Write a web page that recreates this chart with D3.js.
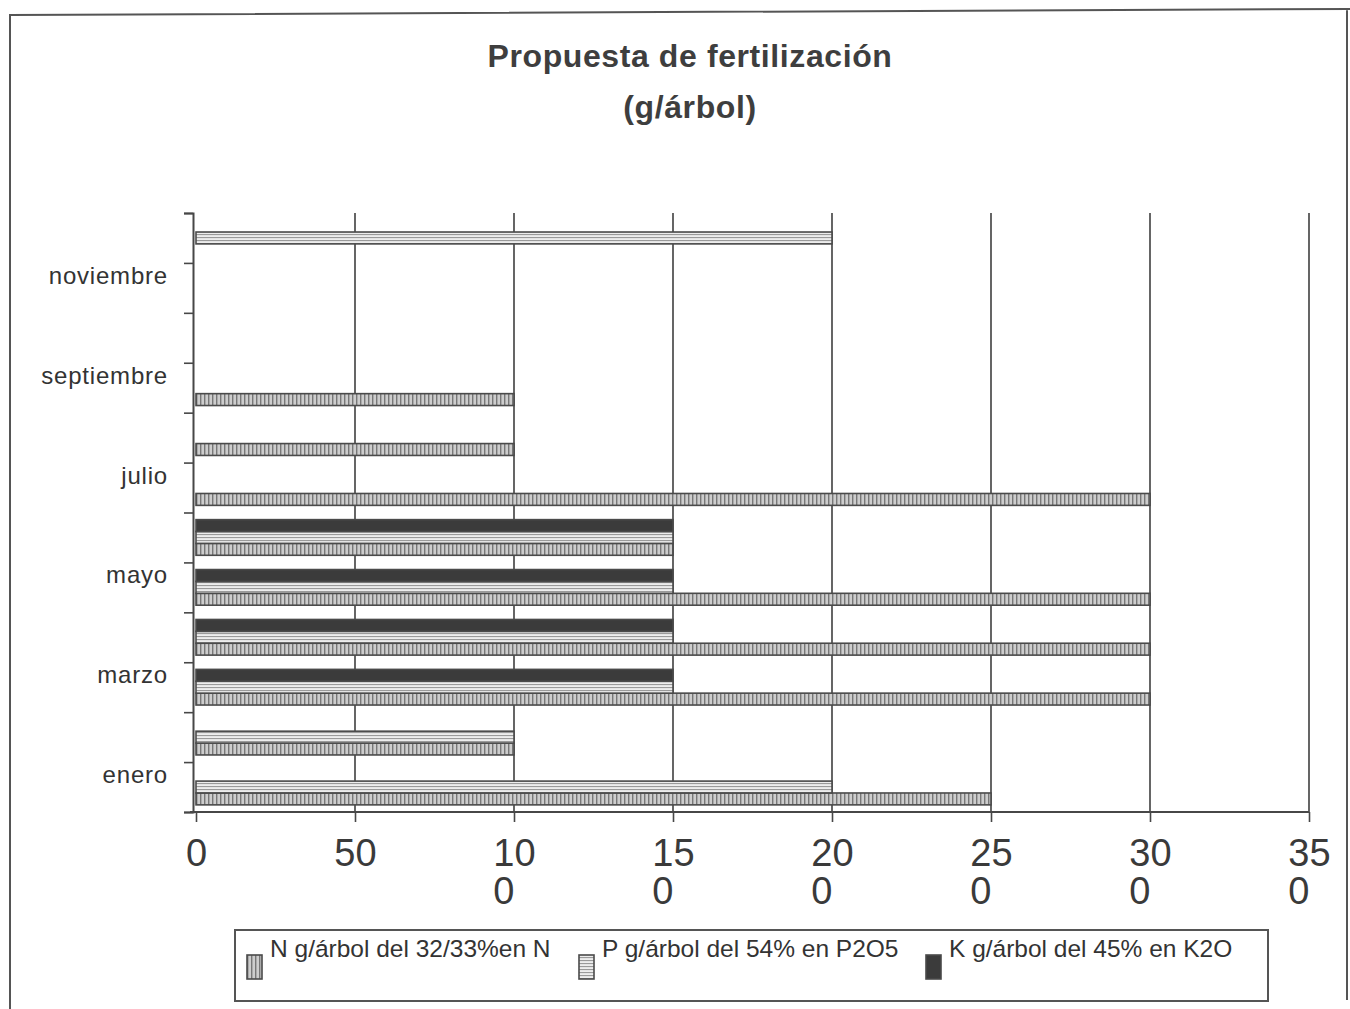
<!DOCTYPE html>
<html lang="es">
<head>
<meta charset="utf-8">
<title>Propuesta de fertilización (g/árbol)</title>
<script src="https://cdn.jsdelivr.net/npm/d3@7/dist/d3.min.js"></script>
<style>
  html, body { margin: 0; padding: 0; background: #fff; }
  svg { display: block; }
  text { font-family: "Liberation Sans", Arial, sans-serif; }
</style>
</head>
<body>
<svg id="chart" width="1350" height="1009"></svg>
<script>
// Monthly fertilisation plan, grams per tree
const months = ["enero", "febrero", "marzo", "abril", "mayo", "junio",
                "julio", "agosto", "septiembre", "octubre", "noviembre", "diciembre"];
const nValues = [250, 100, 300, 300, 300, 150, 300, 100, 100, 0, 0, 0];
const pValues = [200, 100, 150, 150, 150, 150, 0, 0, 0, 0, 0, 200];
const kValues = [0, 0, 150, 150, 150, 150, 0, 0, 0, 0, 0, 0];
const seriesKeys = ["N", "P", "K"];
const seriesLabels = ["N g/árbol del 32/33%en N", "P g/árbol del 54% en P2O5", "K g/árbol del 45% en K2O"];
const xTickValues = [0, 50, 100, 150, 200, 250, 300, 350];
const labeledMonths = ["enero", "marzo", "mayo", "julio", "septiembre", "noviembre"];
const titleLines = ["Propuesta de fertilización", "(g/árbol)"];

const seriesValues = { N: nValues, P: pValues, K: kValues };

const svg = d3.select("#chart");
const ink = "#474747";

// fill patterns for the three series
const defs = svg.append("defs");
const patN = defs.append("pattern").attr("id", "fill-N")
  .attr("patternUnits", "userSpaceOnUse").attr("width", 4).attr("height", 4);
patN.append("rect").attr("width", 4).attr("height", 4).attr("fill", "#cdcdcd");
patN.append("rect").attr("width", 1.4).attr("height", 4).attr("fill", "#777");

const patP = defs.append("pattern").attr("id", "fill-P")
  .attr("patternUnits", "userSpaceOnUse").attr("width", 4).attr("height", 3);
patP.append("rect").attr("width", 4).attr("height", 3).attr("fill", "#ededed");
patP.append("rect").attr("width", 4).attr("height", 1.1).attr("fill", "#9a9a9a");

const fills = { N: "url(#fill-N)", P: "url(#fill-P)", K: "#3b3b3b" };

// outer frame of the sheet
svg.append("path")
  .attr("d", "M10,1009 L10,15 L1350,9 M1347,9 L1347,1000")
  .attr("fill", "none").attr("stroke", "#555").attr("stroke-width", 2);

// title
svg.append("g").selectAll("text").data(titleLines).join("text")
  .attr("x", 690)
  .attr("y", (d, i) => 67 + i * 51)
  .attr("text-anchor", "middle")
  .attr("font-size", 32)
  .attr("font-weight", "bold")
  .attr("letter-spacing", 0.6)
  .attr("fill", "#3e3e3e")
  .text(d => d);

// scales
const plotTop = 213, plotBottom = 812, plotLeft = 196, plotRight = 1309;
const x = d3.scaleLinear().domain([0, 350]).range([plotLeft, plotRight]);
const y = d3.scaleBand().domain(months.slice().reverse()).range([plotTop, plotBottom]).padding(0);
const ySeries = d3.scaleBand().domain(["K", "P", "N"]).range([0, y.bandwidth()])
  .paddingInner(0).paddingOuter(0.6);
const yEdges = d3.scaleLinear().domain([0, months.length]).range([plotBottom, plotTop]);

// vertical gridlines
svg.append("g").selectAll("line").data(xTickValues.filter(v => v > 0)).join("line")
  .attr("x1", d => x(d)).attr("x2", d => x(d))
  .attr("y1", plotTop).attr("y2", plotBottom)
  .attr("stroke", "#3f3f3f").attr("stroke-width", 1.6);

// bars
const rows = months.flatMap((m, i) => seriesKeys.map(k => ({ month: m, key: k, value: seriesValues[k][i] })))
  .filter(d => d.value > 0);

svg.append("g").selectAll("rect").data(rows).join("rect")
  .attr("x", x(0))
  .attr("y", d => y(d.month) + ySeries(d.key))
  .attr("width", d => x(d.value) - x(0))
  .attr("height", ySeries.bandwidth())
  .attr("fill", d => fills[d.key])
  .attr("stroke", "#4a4a4a")
  .attr("stroke-width", 1.6);

// category axis (ticks between months)
const yAxis = svg.append("g").attr("transform", `translate(${plotLeft - 3},0)`)
  .call(d3.axisLeft(yEdges).tickValues(d3.range(0, months.length + 1)).tickSize(9).tickFormat(""));
yAxis.select(".domain").attr("stroke", ink).attr("stroke-width", 2);
yAxis.selectAll(".tick line").attr("stroke", ink).attr("stroke-width", 1.6);

svg.append("g").selectAll("text").data(labeledMonths).join("text")
  .attr("x", 168)
  .attr("y", d => y(d) + y.bandwidth() / 2 - 4)
  .attr("text-anchor", "end")
  .attr("font-size", 24)
  .attr("letter-spacing", 0.8)
  .attr("fill", "#333")
  .text(d => d);

// value axis
const xAxis = svg.append("g").attr("transform", `translate(0,${plotBottom})`)
  .call(d3.axisBottom(x).tickValues(xTickValues).tickSize(10).tickSizeOuter(0).tickFormat(""));
xAxis.select(".domain").attr("stroke", ink).attr("stroke-width", 2)
  .attr("d", `M${plotLeft - 6},0H${plotRight}`);
xAxis.selectAll(".tick line").attr("stroke", ink).attr("stroke-width", 1.6);

// tick labels wrap after two characters, second line starts under the first
xAxis.selectAll(".tick").each(function (d) {
  const s = String(d);
  const lines = s.length > 2 ? [s.slice(0, 2), s.slice(2)] : [s];
  const t = d3.select(this).append("text")
    .attr("font-size", 38)
    .attr("fill", "#3a3a3a")
    .attr("stroke", "none")
    .attr("y", 54)
    .attr("text-anchor", "middle")
    .text(lines[0]);
  if (lines.length > 1) {
    const w = t.node().getComputedTextLength();
    d3.select(this).append("text")
      .attr("font-size", 38)
      .attr("fill", "#3a3a3a")
      .attr("x", -w / 2)
      .attr("y", 92)
      .attr("text-anchor", "start")
      .text(lines[1]);
  }
});

// legend
const legend = svg.append("g");
legend.append("rect")
  .attr("x", 235).attr("y", 930).attr("width", 1033).attr("height", 71)
  .attr("fill", "#fff").attr("stroke", "#555").attr("stroke-width", 2);

const legendX = [247, 579, 926];
const items = legend.selectAll("g.item").data(seriesKeys).join("g")
  .attr("class", "item")
  .attr("transform", (d, i) => `translate(${legendX[i]},0)`);
items.append("rect")
  .attr("x", 0).attr("y", 955).attr("width", 15).attr("height", 24)
  .attr("fill", d => fills[d])
  .attr("stroke", "#4a4a4a").attr("stroke-width", 1.6);
items.append("text")
  .attr("x", 23).attr("y", 957)
  .attr("font-size", 24.5)
  .attr("fill", "#333")
  .text((d, i) => seriesLabels[i]);
</script>
</body>
</html>
